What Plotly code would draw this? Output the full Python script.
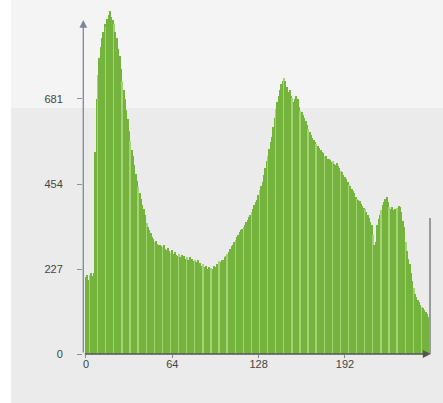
import plotly.graph_objects as go

# Histogram of grey levels 0..255
levels = list(range(256))
counts = [
    205, 212, 198, 210, 215, 208, 215, 540, 680, 745,
    790, 820, 845, 860, 880, 872, 895, 905, 915, 900,
    892, 880, 860, 845, 815, 795, 760, 728, 705, 680,
    652, 628, 595, 570, 545, 530, 505, 480, 462, 445,
    430, 415, 398, 388, 372, 350, 340, 330, 322, 312,
    308, 300, 302, 295, 290, 292, 288, 285, 290, 280,
    278, 282, 275, 270, 278, 268, 272, 265, 262, 268,
    260, 265, 258, 262, 255, 260, 252, 258, 250, 255,
    248, 252, 245, 250, 240, 244, 236, 240, 232, 235,
    228, 232, 222, 230, 226, 235, 232, 240, 236, 248,
    245, 252, 250, 258, 262, 268, 272, 280, 288, 292,
    298, 305, 312, 318, 325, 330, 335, 340, 345, 352,
    358, 365, 372, 378, 388, 398, 405, 412, 425, 438,
    448, 460, 478, 498, 515, 530, 548, 565, 580, 605,
    630, 655, 672, 690, 705, 720, 728, 738, 730, 712,
    700, 705, 690, 685, 672, 680, 690, 682, 660, 650,
    645, 638, 630, 622, 612, 600, 592, 585, 578, 572,
    565, 562, 555, 550, 545, 540, 536, 530, 528, 522,
    520, 518, 512, 515, 508, 505, 510, 502, 498, 490,
    485, 478, 472, 468, 460, 452, 448, 440, 436, 430,
    420, 415, 410, 408, 400, 395, 390, 386, 380, 372,
    362, 352, 345, 318, 290, 298, 345, 360, 372, 385,
    398, 405, 415, 420, 405, 392, 388, 392, 385, 388,
    382, 390, 395, 392, 378, 355, 338, 300, 275, 255,
    240, 215, 195, 175, 160, 152, 145, 138, 132, 126,
    122, 118, 112, 108, 100, 363,
]
x_ticks = [0, 64, 128, 192]
x_tick_labels = ["0", "64", "128", "192"]
y_ticks = [0, 227, 454, 681]
y_tick_labels = ["0", "227", "454", "681"]

GREEN = "#74b43c"
STRIPE = "#a6d178"
colors = []
widths = []
for i in levels:
    if i == 255:
        colors.append("#9a9a9a")
        widths.append(0.6)
    elif i % 6 == 3:
        colors.append(STRIPE)
        widths.append(1.0)
    else:
        colors.append(GREEN)
        widths.append(1.0)

fig = go.Figure()
fig.add_trace(go.Bar(
    x=levels, y=counts, width=widths,
    marker=dict(color=colors, line=dict(width=0)),
    hoverinfo="x+y", showlegend=False,
))

font = dict(family="Liberation Sans, Arial, sans-serif", size=11, color="#444444")

fig.update_layout(
    width=443, height=403,
    margin=dict(l=83, r=9, t=8, b=49),
    paper_bgcolor="#ebebeb",
    plot_bgcolor="rgba(0,0,0,0)",
    bargap=0,
    font=font,
    xaxis=dict(
        range=[-2.22, 258], tickmode="array", tickvals=x_ticks, ticktext=x_tick_labels,
        showgrid=False, zeroline=False, showline=False,
        ticks="outside", ticklen=3, tickcolor="#888888", tickfont=font,
        ticklabelstandoff=-3, fixedrange=True,
    ),
    yaxis=dict(
        range=[0, 924], tickmode="array", tickvals=y_ticks, ticktext=y_tick_labels,
        showgrid=False, zeroline=False, showline=False,
        ticks="outside", ticklen=5, tickcolor="#8a93a6", tickfont=font,
        ticklabelstandoff=12, fixedrange=True,
    ),
    shapes=[
        # lighter upper band of the scanned page
        dict(type="rect", xref="paper", yref="paper", x0=-0.205, x1=1.03,
             y0=0.711, y1=1.03, fillcolor="#f4f4f4", line=dict(width=0), layer="below"),
        # white strip at the left edge
        dict(type="rect", xref="paper", yref="paper", x0=-0.24, x1=-0.205,
             y0=-0.2, y1=1.03, fillcolor="#ffffff", line=dict(width=0), layer="below"),
    ],
    annotations=[
        # y axis with arrow
        dict(x=-2, y=892, ax=-2, ay=0, xref="x", yref="y", axref="x", ayref="y",
             showarrow=True, arrowhead=2, arrowsize=1.2, arrowwidth=1.3,
             arrowcolor="#7d8699", text=""),
        # x axis with arrow
        dict(x=255.5, y=0, ax=-2, ay=0, xref="x", yref="y", axref="x", ayref="y",
             showarrow=True, arrowhead=2, arrowsize=1.2, arrowwidth=1.3,
             arrowcolor="#555555", text=""),
    ],
)

fig.write_html("out.html")
